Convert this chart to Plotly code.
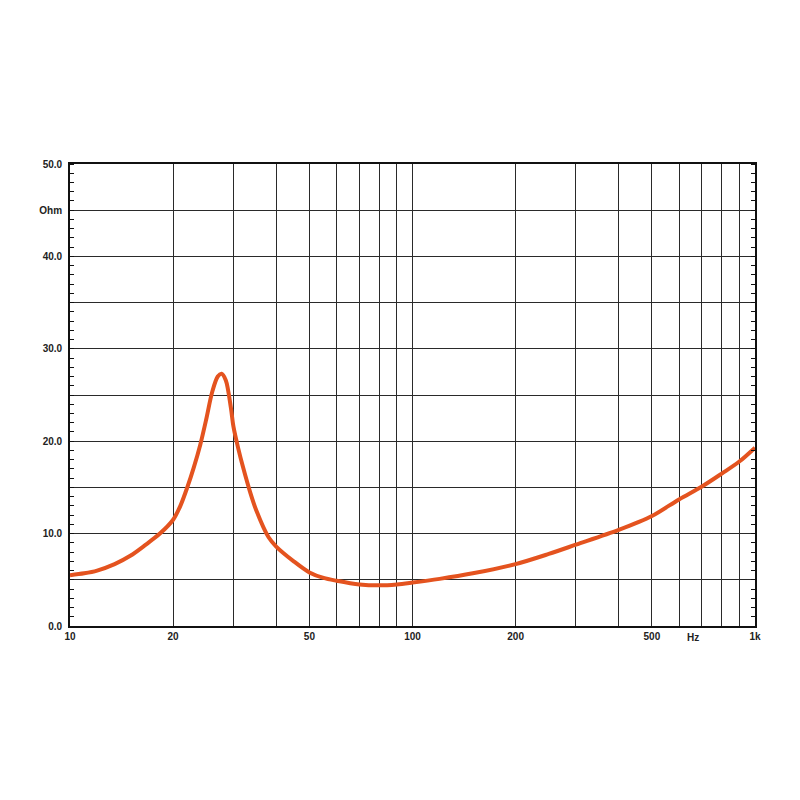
import plotly.graph_objects as go

# impedance curve
freq_hz = [10, 11, 12, 13.5, 15, 16.5, 18.3, 20, 21, 22, 23, 24, 25, 26, 27, 27.7, 28.5, 29.5,
           30, 31, 32, 33.5, 35, 38, 40, 45, 50, 55, 60, 70, 80, 90, 100, 120, 150, 200, 250,
           300, 400, 500, 600, 700, 800, 900, 1000]
impedance_ohm = [5.5, 5.7, 6.0, 6.7, 7.6, 8.7, 10.0, 11.5, 13.0, 15.0, 17.2, 19.6, 22.4, 25.3,
                 27.0, 27.3, 26.6, 23.6, 21.6, 19.2, 17.2, 14.6, 12.5, 9.6, 8.6, 7.0, 5.8, 5.2,
                 4.9, 4.5, 4.4, 4.5, 4.7, 5.1, 5.7, 6.7, 7.8, 8.8, 10.4, 11.9, 13.7, 15.1, 16.5,
                 17.8, 19.3]

x_grid = [m * 10 ** e for e in (1, 2) for m in range(2, 11)]
x_labels = {10: "10", 20: "20", 50: "50", 100: "100", 200: "200", 500: "500", 1000: "1k"}
y_vals = list(range(0, 55, 5))
y_labels = {0: "0.0", 10: "10.0", 20: "20.0", 30: "30.0", 40: "40.0", 45: "Ohm", 50: "50.0"}

FONT = dict(family="Liberation Sans, Arial, sans-serif", size=10, color="#222")
GRID = "#2a2a2a"

fig = go.Figure()
fig.add_trace(go.Scatter(
    x=freq_hz, y=impedance_ohm, mode="lines",
    line=dict(color="#E4531F", width=4, shape="spline", smoothing=0.9),
    hoverinfo="x+y", showlegend=False,
))
# invisible trace to carry the right-hand tick axis
fig.add_trace(go.Scatter(x=[10], y=[0], yaxis="y2", mode="markers",
                         marker=dict(opacity=0), showlegend=False, hoverinfo="skip"))

ticks_x = [10] + x_grid
fig.update_layout(
    width=800, height=800,
    plot_bgcolor="white", paper_bgcolor="white",
    margin=dict(l=62, r=53, t=156, b=182),
    font=FONT,
    xaxis=dict(
        type="log", range=[1, 3],
        tickmode="array", tickvals=ticks_x,
        ticktext=[f"<b>{x_labels[v]}</b>" if v in x_labels else "" for v in ticks_x],
        showgrid=True, gridcolor=GRID, gridwidth=1.4,
        showline=True, linecolor="#111", linewidth=1.8, mirror=True,
        ticks="", zeroline=False, tickfont=FONT,
    ),
    yaxis=dict(
        range=[0, 50],
        tickmode="array", tickvals=y_vals,
        ticktext=[f"<b>{y_labels[v]}</b>" if v in y_labels else "" for v in y_vals],
        showgrid=True, gridcolor=GRID, gridwidth=1.4,
        showline=True, linecolor="#111", linewidth=1.8, mirror=True,
        ticks="", ticklabelstandoff=4, zeroline=False, tickfont=FONT,
        minor=dict(dtick=1, ticks="inside", ticklen=4, tickcolor="#111", tickwidth=1, showgrid=False),
    ),
    yaxis2=dict(
        range=[0, 50], overlaying="y", side="right",
        showgrid=False, showticklabels=False, zeroline=False,
        tickmode="array", tickvals=y_vals, ticks="",
        minor=dict(dtick=1, ticks="inside", ticklen=4, tickcolor="#111", tickwidth=1, showgrid=False),
    ),
    annotations=[dict(x=2.818, y=0, xref="x", yref="paper", yanchor="top", yshift=-4,
                      text="<b>Hz</b>", showarrow=False, font=FONT)],
)

fig.write_html("out.html")
